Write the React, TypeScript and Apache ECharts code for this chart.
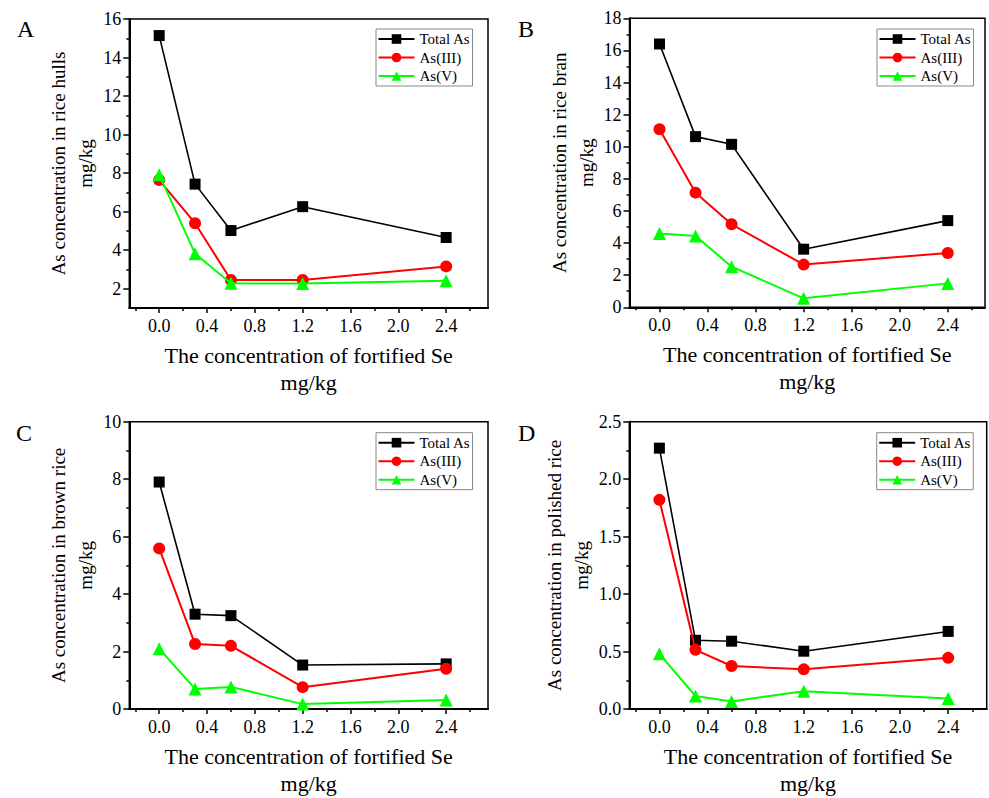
import React, { useEffect, useRef } from "react";
import * as echarts from "echarts";

// ---- data ----
const xValues = [0, 0.3, 0.6, 1.2, 2.4];
const seriesNames = ["Total As", "As(III)", "As(V)"];

const hullsTotal = [15.14, 7.43, 5.02, 6.26, 4.66];
const hullsIII = [7.64, 5.4, 2.45, 2.45, 3.16];
const hullsV = [7.92, 3.82, 2.28, 2.27, 2.41];

const branTotal = [16.4, 10.63, 10.15, 3.62, 5.4];
const branIII = [11.09, 7.14, 5.17, 2.66, 3.38];
const branV = [4.6, 4.44, 2.53, 0.56, 1.49];

const brownTotal = [7.9, 3.3, 3.25, 1.53, 1.57];
const brownIII = [5.59, 2.26, 2.2, 0.76, 1.4];
const brownV = [2.1, 0.7, 0.77, 0.17, 0.31];

const polishedTotal = [2.27, 0.598, 0.59, 0.503, 0.675];
const polishedIII = [1.82, 0.515, 0.374, 0.345, 0.445];
const polishedV = [0.48, 0.113, 0.066, 0.155, 0.092];

const xTickLabels = [0, 0.4, 0.8, 1.2, 1.6, 2.0, 2.4];
const xMinorTicks = [-0.2, 0.2, 0.6, 1.0, 1.4, 1.8, 2.2, 2.6];

const yTicksA = [2, 4, 6, 8, 10, 12, 14, 16];
const yMinorA = [3, 5, 7, 9, 11, 13, 15];
const yTicksB = [0, 2, 4, 6, 8, 10, 12, 14, 16, 18];
const yMinorB = [1, 3, 5, 7, 9, 11, 13, 15, 17];
const yTicksC = [0, 2, 4, 6, 8, 10];
const yMinorC = [1, 3, 5, 7, 9];
const yTicksD = [0, 0.5, 1.0, 1.5, 2.0, 2.5];
const yMinorD = [0.25, 0.75, 1.25, 1.75, 2.25];

const panelLetters = ["A", "B", "C", "D"];
const yTitles = [
  "As concentration in rice hulls",
  "As concentration in rice bran",
  "As concentration in brown rice",
  "As concentration in polished rice",
];
const xTitle = "The concentration of fortified Se";
const unit = "mg/kg";

const FONT = "Liberation Serif";
const COLORS = ["#000000", "#ff0000", "#00ff00"];
const SYMBOLS = ["rect", "circle", "triangle"];
const SYMBOL_SIZES = [11, 12, 13];

const panels = [
  {
    grid: { left: 129.3, top: 19, width: 358.7, height: 289 },
    xMax: 2.75, yMin: 1, yMax: 16, yTicks: yTicksA, yMinor: yMinorA, yFmt: (v: number) => String(v),
    data: [hullsTotal, hullsIII, hullsV], nameGapY: 30,
    legend: { left: 376, top: 29 }, letter: { x: 17, y: 29 },
  },
  {
    grid: { left: 629.5, top: 18.3, width: 355.5, height: 289 },
    xMax: 2.71, yMin: 0, yMax: 18, yTicks: yTicksB, yMinor: yMinorB, yFmt: (v: number) => String(v),
    data: [branTotal, branIII, branV], nameGapY: 30,
    legend: { left: 877, top: 29 }, letter: { x: 518, y: 29 },
  },
  {
    grid: { left: 129.3, top: 421.7, width: 358.7, height: 289.3 },
    xMax: 2.75, yMin: 0, yMax: 10, yTicks: yTicksC, yMinor: yMinorC, yFmt: (v: number) => String(v),
    data: [brownTotal, brownIII, brownV], nameGapY: 30,
    legend: { left: 376, top: 432.7 }, letter: { x: 16, y: 433 },
  },
  {
    grid: { left: 629.3, top: 421.7, width: 357.4, height: 290.3 },
    xMax: 2.72, yMin: 0, yMax: 2.5, yTicks: yTicksD, yMinor: yMinorD, yFmt: (v: number) => v.toFixed(1),
    data: [polishedTotal, polishedIII, polishedV], nameGapY: 34,
    legend: { left: 876.7, top: 432.7 }, letter: { x: 518, y: 433 },
  },
];

function buildOption() {
  const grid: any[] = [];
  const xAxis: any[] = [];
  const yAxis: any[] = [];
  const series: any[] = [];
  const legend: any[] = [];
  const graphic: any[] = [];

  panels.forEach((p, i) => {
    grid.push({
      ...p.grid,
      show: true,
      borderColor: "#000",
      borderWidth: 1.5,
      backgroundColor: "transparent",
    });
    xAxis.push({
      type: "value",
      gridIndex: i,
      position: "bottom",
      min: -0.25,
      max: p.xMax,
      splitLine: { show: false },
      axisLine: { show: true, onZero: false, lineStyle: { color: "#000", width: 2 } },
      axisTick: { show: true, inside: false, length: 5, customValues: xTickLabels, lineStyle: { color: "#000", width: 1.5 } },
      axisLabel: {
        customValues: xTickLabels,
        formatter: (v: number) => v.toFixed(1),
        color: "#000",
        fontFamily: FONT,
        fontSize: 18,
        margin: 9,
      },
      name: xTitle + "\n" + unit,
      nameLocation: "middle",
      nameGap: 34,
      nameTextStyle: { color: "#000", fontFamily: FONT, fontSize: 22, lineHeight: 27 },
    });
    xAxis.push({
      type: "value",
      gridIndex: i,
      position: "bottom",
      min: -0.25,
      max: p.xMax,
      splitLine: { show: false },
      axisLine: { show: false, onZero: false },
      axisTick: { show: true, inside: false, length: 3, customValues: xMinorTicks, lineStyle: { color: "#000", width: 1.5 } },
      axisLabel: { show: false },
    });
    yAxis.push({
      type: "value",
      gridIndex: i,
      position: "left",
      min: p.yMin,
      max: p.yMax,
      splitLine: { show: false },
      axisLine: { show: true, onZero: false, lineStyle: { color: "#000", width: 2 } },
      axisTick: { show: true, inside: false, length: 6, customValues: p.yTicks, lineStyle: { color: "#000", width: 1.5 } },
      axisLabel: {
        customValues: p.yTicks,
        formatter: p.yFmt,
        color: "#000",
        fontFamily: FONT,
        fontSize: 18,
        margin: 8,
      },
      name: yTitles[i] + "\n" + unit,
      nameLocation: "middle",
      nameGap: p.nameGapY,
      nameTextStyle: { color: "#000", fontFamily: FONT, fontSize: 19, lineHeight: 27 },
    });
    yAxis.push({
      type: "value",
      gridIndex: i,
      position: "left",
      min: p.yMin,
      max: p.yMax,
      splitLine: { show: false },
      axisLine: { show: false, onZero: false },
      axisTick: { show: true, inside: false, length: 3, customValues: p.yMinor, lineStyle: { color: "#000", width: 1.5 } },
      axisLabel: { show: false },
    });

    p.data.forEach((vals, k) => {
      series.push({
        type: "line",
        name: seriesNames[k],
        xAxisIndex: i * 2,
        yAxisIndex: i * 2,
        data: xValues.map((x, j) => [x, vals[j]]),
        symbol: SYMBOLS[k],
        symbolSize: SYMBOL_SIZES[k],
        showSymbol: true,
        lineStyle: { color: COLORS[k], width: k === 0 ? 1.6 : 2 },
        itemStyle: { color: COLORS[k] },
        z: 2 + k,
      });
    });

    legend.push({
      orient: "vertical",
      left: p.legend.left,
      top: p.legend.top,
      data: seriesNames,
      itemWidth: 36,
      itemHeight: 12,
      itemGap: 2.5,
      padding: [2, 2, 2, 1.5],
      borderColor: "#888",
      borderWidth: 1,
      selectedMode: false,
      textStyle: { color: "#000", fontFamily: FONT, fontSize: 15, lineHeight: 16 },
    });

    graphic.push({
      type: "text",
      x: p.letter.x,
      y: p.letter.y,
      style: {
        text: panelLetters[i],
        fill: "#000",
        font: `24px ${FONT}`,
        verticalAlign: "middle",
      },
    });
  });

  return {
    animation: false,
    backgroundColor: "#fff",
    textStyle: { fontFamily: FONT, color: "#000" },
    grid,
    xAxis,
    yAxis,
    series,
    legend,
    graphic,
  };
}

export default function App() {
  const ref = useRef<HTMLDivElement>(null);
  useEffect(() => {
    if (!ref.current) return;
    const chart = echarts.init(ref.current, undefined, { renderer: "svg" });
    chart.setOption(buildOption() as any);
    return () => chart.dispose();
  }, []);
  return (
    <div
      ref={ref}
      style={{ position: "fixed", left: 0, top: 0, width: 989, height: 798, background: "#fff" }}
    />
  );
}
